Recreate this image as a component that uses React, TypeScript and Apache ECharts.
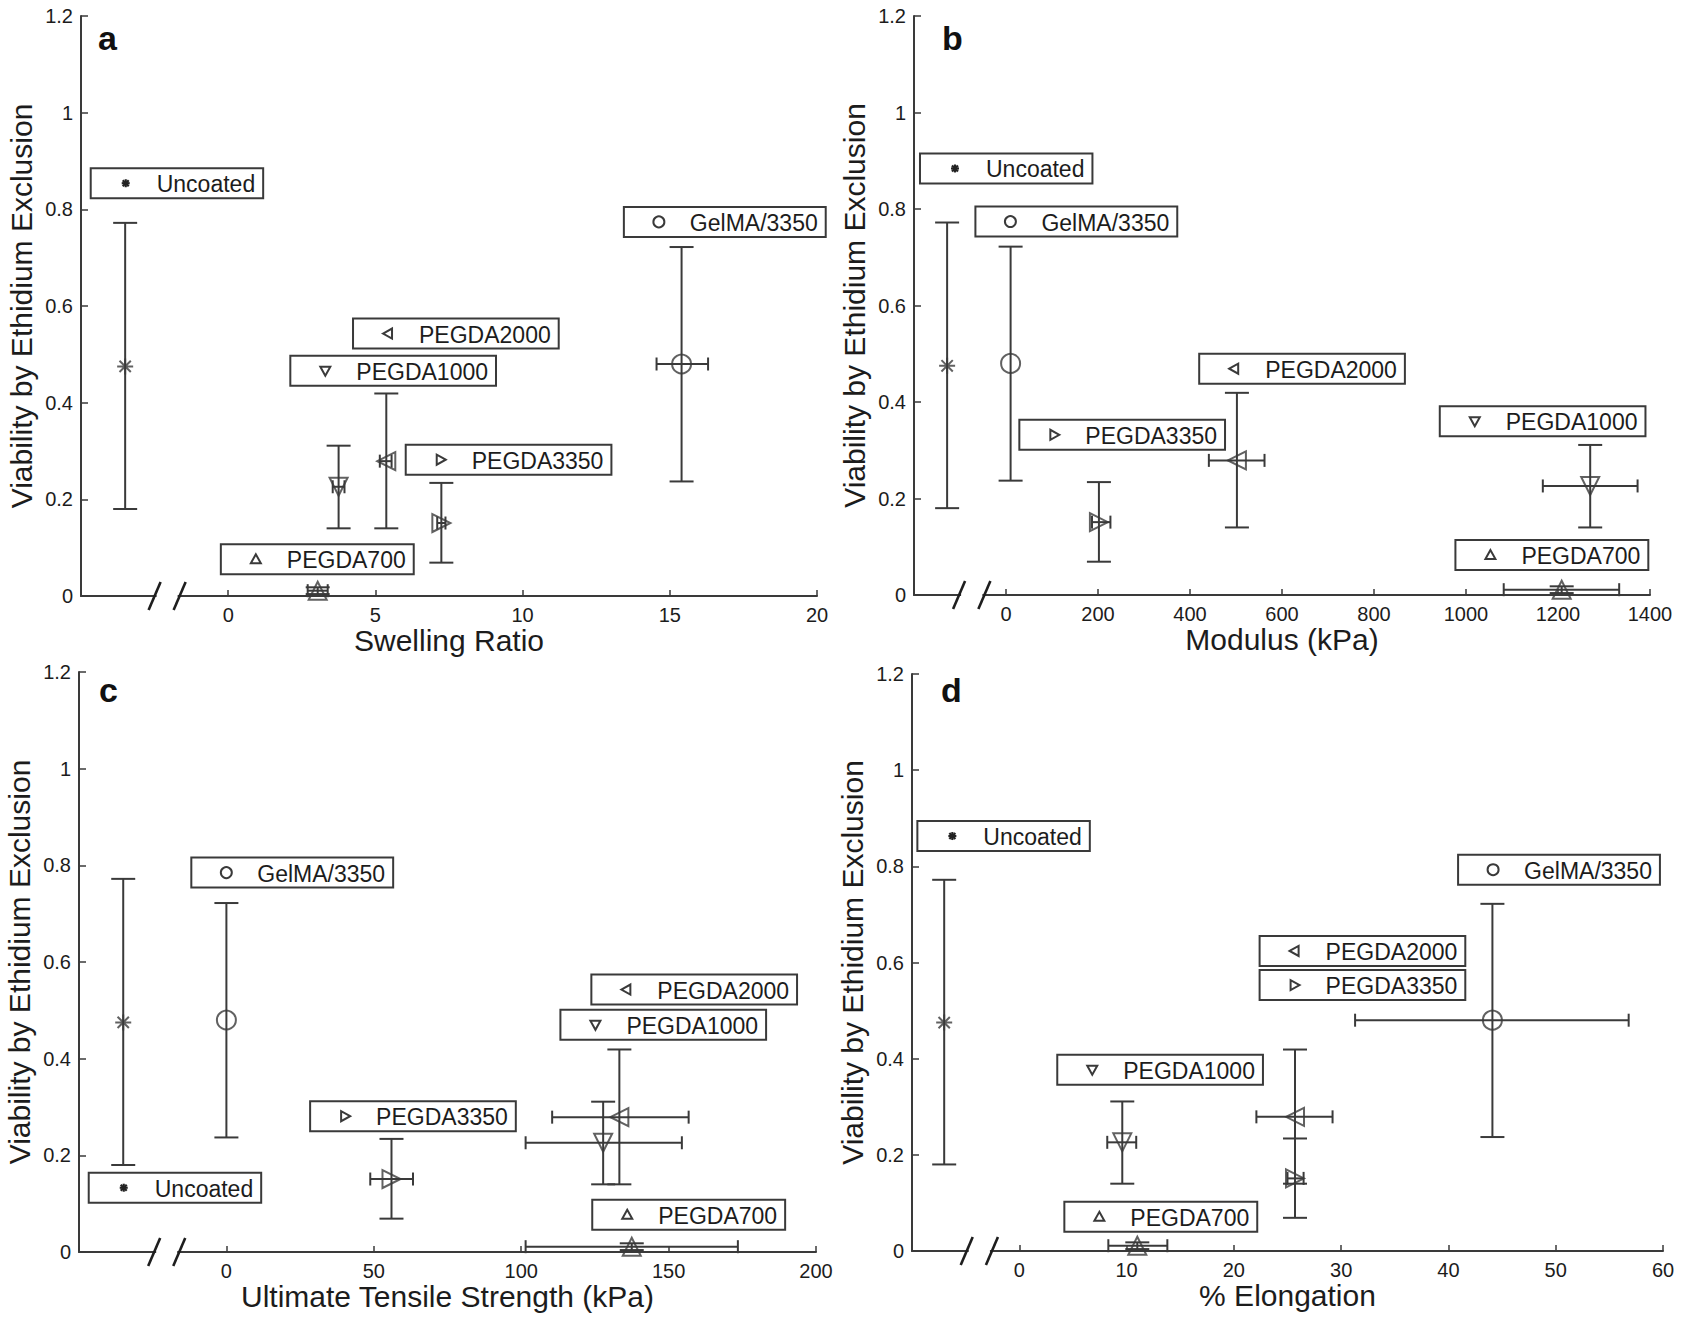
import React, { useEffect, useRef } from "react";
import * as echarts from "echarts";

// ---------------- DATA ----------------
const groups = ["Uncoated", "GelMA/3350", "PEGDA700", "PEGDA1000", "PEGDA2000", "PEGDA3350"];
const markerKinds = ["asterisk", "circle", "up", "down", "left", "right"];

// Viability by ethidium exclusion (same for all four panels)
const viability = [0.475, 0.48, 0.011, 0.226, 0.279, 0.151];
const viabilityLow = [0.18, 0.237, 0.004, 0.14, 0.14, 0.069];
const viabilityHigh = [0.772, 0.722, 0.018, 0.311, 0.419, 0.234];
const yRange = [0, 1.2, 0.2];

// Panel a: swelling ratio (Uncoated placed left of the axis break)
const swelling = [-3.5, 15.4, 3.04, 3.75, 5.37, 7.24];
const swellingLow = [-3.5, 14.55, 2.7, 3.55, 5.15, 7.1];
const swellingHigh = [-3.5, 16.3, 3.38, 3.95, 5.55, 7.38];
const swellingLabels = [[-4.67, 0.854], [13.44, 0.774], [-0.25, 0.076], [2.11, 0.466], [4.24, 0.543], [6.03, 0.282]];
const swellingBreak = [-2.5, -1.65];
const swellingRange = [-5, 20, 5];

// Panel b: modulus (kPa)
const modulus = [-128, 10, 1208, 1270, 502, 202];
const modulusLow = [-128, 10, 1082, 1167, 441, 187];
const modulusHigh = [-128, 10, 1333, 1373, 562, 227];
const modulusLabels = [[-187, 0.884], [-66.5, 0.774], [977, 0.083], [943, 0.36], [420, 0.469], [29, 0.332]];
const modulusBreak = [-102, -47];
const modulusRange = [-200, 1400, 200];

// Panel c: ultimate tensile strength (kPa)
const uts = [-35, 0, 137.5, 127.8, 133.3, 56];
const utsLow = [-35, 0, 101.5, 101.5, 110.5, 48.8];
const utsHigh = [-35, 0, 173.5, 154.5, 156.8, 63.3];
const utsLabels = [[-46.7, 0.133], [-11.9, 0.785], [124.1, 0.077], [113.3, 0.47], [123.8, 0.543], [28.4, 0.281]];
const utsBreak = [-24.5, -16];
const utsRange = [-50, 200, 50];

// Panel d: % elongation
const elongation = [-7, 44.1, 11.0, 9.6, 25.7, 25.7];
const elongationLow = [-7, 31.3, 8.3, 8.2, 22.1, 25.0];
const elongationHigh = [-7, 56.8, 13.8, 10.9, 29.2, 26.5];
const elongationLabels = [[-9.5, 0.863], [40.9, 0.793], [4.2, 0.071], [3.54, 0.377], [22.4, 0.624], [22.4, 0.553]];
const elongationBreak = [-4.9, -2.55];
const elongationRange = [-10, 60, 10];

// ---------------- STYLE ----------------
const FONT = "'Liberation Sans', Arial, Helvetica, sans-serif";
const LINE = "#3a3a3a";
const TEXT = "#1c1c1c";
const BOX_FONT = `23px ${FONT}`;

const panels = [
  { letter: "a", name: "Swelling Ratio", x: swelling, xLow: swellingLow, xHigh: swellingHigh, labels: swellingLabels, brk: swellingBreak, range: swellingRange, grid: { left: 81, top: 16, width: 736, height: 580 }, letterPos: [98, 38] },
  { letter: "b", name: "Modulus (kPa)", x: modulus, xLow: modulusLow, xHigh: modulusHigh, labels: modulusLabels, brk: modulusBreak, range: modulusRange, grid: { left: 914, top: 16, width: 736, height: 579 }, letterPos: [942, 38] },
  { letter: "c", name: "Ultimate Tensile Strength (kPa)", x: uts, xLow: utsLow, xHigh: utsHigh, labels: utsLabels, brk: utsBreak, range: utsRange, grid: { left: 79, top: 672, width: 737, height: 580 }, letterPos: [99, 690] },
  { letter: "d", name: "% Elongation", x: elongation, xLow: elongationLow, xHigh: elongationHigh, labels: elongationLabels, brk: elongationBreak, range: elongationRange, grid: { left: 912, top: 674, width: 751, height: 577 }, letterPos: [941, 690] },
];

const ASTERISK = "path://M10,0L10,20M0,10L20,10M2.93,2.93L17.07,17.07M2.93,17.07L17.07,2.93";

function bigSymbol(kind: string) {
  switch (kind) {
    case "asterisk": return { symbol: ASTERISK, symbolRotate: 0, symbolSize: 16 };
    case "circle": return { symbol: "circle", symbolRotate: 0, symbolSize: 19 };
    case "up": return { symbol: "triangle", symbolRotate: 0, symbolSize: 18 };
    case "down": return { symbol: "triangle", symbolRotate: 180, symbolSize: 18 };
    case "left": return { symbol: "triangle", symbolRotate: 90, symbolSize: 18 };
    default: return { symbol: "triangle", symbolRotate: -90, symbolSize: 18 };
  }
}

let measureCtx: CanvasRenderingContext2D | null = null;
function measure(text: string, font: string) {
  if (!measureCtx) measureCtx = document.createElement("canvas").getContext("2d");
  if (!measureCtx) return text.length * 12;
  measureCtx.font = font;
  return measureCtx.measureText(text).width;
}

function smallSymbol(kind: string, cx: number, cy: number) {
  const st = { fill: "none", stroke: LINE, lineWidth: 2 };
  const s = 5;
  if (kind === "circle") return [{ type: "circle", shape: { cx, cy, r: 5.5 }, style: st }];
  if (kind === "asterisk") {
    const st2 = { stroke: "#222", lineWidth: 2.2 };
    return [
      { type: "line", shape: { x1: cx - 4, y1: cy, x2: cx + 4, y2: cy }, style: st2 },
      { type: "line", shape: { x1: cx, y1: cy - 4, x2: cx, y2: cy + 4 }, style: st2 },
      { type: "line", shape: { x1: cx - 3, y1: cy - 3, x2: cx + 3, y2: cy + 3 }, style: st2 },
      { type: "line", shape: { x1: cx - 3, y1: cy + 3, x2: cx + 3, y2: cy - 3 }, style: st2 },
    ];
  }
  let pts: number[][];
  if (kind === "up") pts = [[cx, cy - s], [cx - s, cy + s * 0.8], [cx + s, cy + s * 0.8]];
  else if (kind === "down") pts = [[cx, cy + s], [cx - s, cy - s * 0.8], [cx + s, cy - s * 0.8]];
  else if (kind === "left") pts = [[cx - s, cy], [cx + s * 0.8, cy - s], [cx + s * 0.8, cy + s]];
  else pts = [[cx + s, cy], [cx - s * 0.8, cy - s], [cx - s * 0.8, cy + s]];
  return [{ type: "polygon", shape: { points: pts }, style: st }];
}

function renderErr(_params: any, api: any) {
  const x = api.value(0), y = api.value(1);
  const ylo = api.value(2), yhi = api.value(3);
  const xlo = api.value(4), xhi = api.value(5);
  const c = api.coord([x, y]);
  const lo = api.coord([x, ylo]);
  const hi = api.coord([x, yhi]);
  const ls = { stroke: LINE, lineWidth: 2 };
  const cw = 12;
  const children: any[] = [
    { type: "line", shape: { x1: c[0], y1: lo[1], x2: c[0], y2: hi[1] }, style: ls },
    { type: "line", shape: { x1: c[0] - cw, y1: lo[1], x2: c[0] + cw, y2: lo[1] }, style: ls },
    { type: "line", shape: { x1: c[0] - cw, y1: hi[1], x2: c[0] + cw, y2: hi[1] }, style: ls },
  ];
  if (xhi > xlo) {
    const l = api.coord([xlo, y]);
    const r = api.coord([xhi, y]);
    const ch = 6.5;
    children.push(
      { type: "line", shape: { x1: l[0], y1: c[1], x2: r[0], y2: c[1] }, style: ls },
      { type: "line", shape: { x1: l[0], y1: c[1] - ch, x2: l[0], y2: c[1] + ch }, style: ls },
      { type: "line", shape: { x1: r[0], y1: c[1] - ch, x2: r[0], y2: c[1] + ch }, style: ls },
    );
  }
  return { type: "group", children };
}

function renderLabel(_params: any, api: any) {
  const k = api.value(2);
  const p = api.coord([api.value(0), api.value(1)]);
  const text = groups[k];
  const w = 66 + measure(text, BOX_FONT) + 8;
  const h = 30;
  const left = p[0], cy = p[1];
  return {
    type: "group",
    children: [
      { type: "rect", shape: { x: left, y: cy - h / 2, width: w, height: h }, style: { fill: "#ffffff", stroke: LINE, lineWidth: 2 } },
      ...smallSymbol(markerKinds[k], left + 35, cy),
      { type: "text", x: left + 66, y: cy + 1, style: { text, font: BOX_FONT, fill: TEXT, align: "left", verticalAlign: "middle", textAlign: "left", textVerticalAlign: "middle" } },
    ],
  };
}

function renderBreak(_params: any, api: any) {
  const p1 = api.coord([api.value(0), api.value(1)]);
  const p2 = api.coord([api.value(2), api.value(1)]);
  const st = { stroke: "#1e1e1e", lineWidth: 2.6 };
  return {
    type: "group",
    children: [
      { type: "rect", shape: { x: p1[0] + 2, y: p1[1] - 3, width: p2[0] - p1[0] - 4, height: 6 }, style: { fill: "#ffffff" } },
      { type: "line", shape: { x1: p1[0] - 6, y1: p1[1] + 14, x2: p1[0] + 6, y2: p1[1] - 14 }, style: st },
      { type: "line", shape: { x1: p2[0] - 6, y1: p2[1] + 14, x2: p2[0] + 6, y2: p2[1] - 14 }, style: st },
    ],
  };
}

function buildOption() {
  const grid: any[] = [];
  const xAxis: any[] = [];
  const yAxis: any[] = [];
  const series: any[] = [];
  const graphic: any[] = [];

  panels.forEach((p, i) => {
    grid.push({ ...p.grid, containLabel: false });
    xAxis.push({
      gridIndex: i,
      type: "value",
      min: p.range[0],
      max: p.range[1],
      interval: p.range[2],
      axisLine: { onZero: false, lineStyle: { color: LINE, width: 2 } },
      axisTick: { inside: true, length: 6, lineStyle: { color: LINE, width: 1.5 } },
      axisLabel: { formatter: (v: number) => (v < 0 ? "" : String(v)), fontSize: 20, color: TEXT, fontFamily: FONT, margin: 9, showMinLabel: true, showMaxLabel: true },
      splitLine: { show: false },
      name: p.name,
      nameLocation: "middle",
      nameGap: 28,
      nameTextStyle: { fontSize: 30, color: TEXT, fontFamily: FONT },
    });
    yAxis.push({
      gridIndex: i,
      type: "value",
      min: yRange[0],
      max: yRange[1],
      interval: yRange[2],
      axisLine: { show: true, onZero: false, lineStyle: { color: LINE, width: 2 } },
      axisTick: { show: true, inside: true, length: 7, lineStyle: { color: LINE, width: 1.5 } },
      axisLabel: { fontSize: 20, color: TEXT, fontFamily: FONT, margin: 8 },
      splitLine: { show: false },
      name: "Viability by Ethidium Exclusion",
      nameLocation: "middle",
      nameGap: 45,
      nameTextStyle: { fontSize: 30, color: TEXT, fontFamily: FONT },
    });

    series.push({
      type: "custom",
      xAxisIndex: i,
      yAxisIndex: i,
      silent: true,
      z: 3,
      renderItem: renderErr,
      encode: { x: 0, y: 1 },
      data: groups.map((_, k) => [p.x[k], viability[k], viabilityLow[k], viabilityHigh[k], p.xLow[k], p.xHigh[k]]),
    });
    series.push({
      type: "scatter",
      xAxisIndex: i,
      yAxisIndex: i,
      silent: true,
      z: 4,
      itemStyle: { color: "rgba(0,0,0,0)", borderColor: LINE, borderWidth: 2 },
      data: groups.map((_, k) => ({ value: [p.x[k], viability[k]], ...bigSymbol(markerKinds[k]) })),
    });
    series.push({
      type: "custom",
      xAxisIndex: i,
      yAxisIndex: i,
      silent: true,
      z: 5,
      renderItem: renderLabel,
      encode: { x: 0, y: 1 },
      data: groups.map((_, k) => [p.labels[k][0], p.labels[k][1], k]),
    });
    series.push({
      type: "custom",
      xAxisIndex: i,
      yAxisIndex: i,
      silent: true,
      z: 6,
      renderItem: renderBreak,
      encode: { x: [0, 2], y: 1 },
      data: [[p.brk[0], 0, p.brk[1]]],
    });

    graphic.push({
      type: "text",
      x: p.letterPos[0],
      y: p.letterPos[1],
      style: { text: p.letter, font: `bold 34px ${FONT}`, fill: "#111", align: "left", verticalAlign: "middle", textAlign: "left", textVerticalAlign: "middle" },
    });
  });

  return { animation: false, backgroundColor: "#ffffff", grid, xAxis, yAxis, series, graphic };
}

export default function App() {
  const ref = useRef<HTMLDivElement>(null);
  useEffect(() => {
    if (!ref.current) return;
    const chart = echarts.init(ref.current, null, { renderer: "svg" });
    chart.setOption(buildOption() as any);
    return () => chart.dispose();
  }, []);
  return <div ref={ref} style={{ position: "absolute", left: 0, top: 0, width: 1681, height: 1320, background: "#fff" }} />;
}
